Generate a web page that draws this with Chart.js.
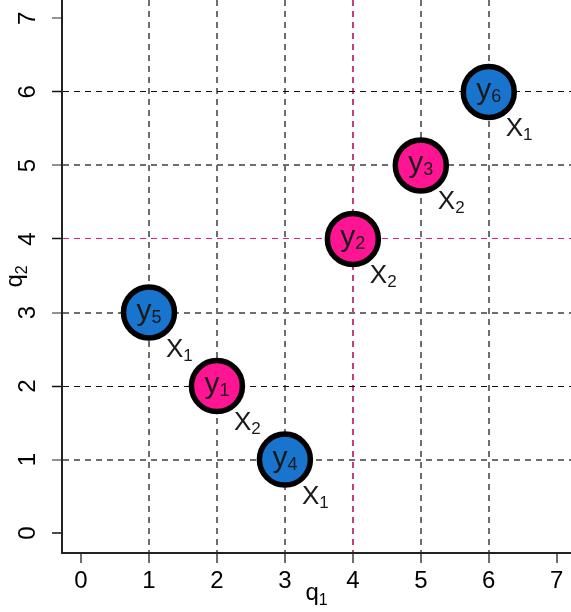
<!DOCTYPE html>
<html>
<head>
<meta charset="utf-8">
<script src="https://cdn.jsdelivr.net/npm/chart.js@4.4.1/dist/chart.umd.min.js"></script>
<style>
  html, body { margin: 0; padding: 0; background: #fff; }
  canvas { display: block; }
</style>
</head>
<body>
<canvas id="chart" width="571" height="612"></canvas>
<script>
// data
const q1Values = [2, 4, 5, 3, 1, 6];
const q2Values = [2, 4, 5, 1, 3, 6];
const pointIndex = ['1', '2', '3', '4', '5', '6'];   // y_i labels
const groupIndex = ['2', '2', '2', '1', '1', '1'];   // X_k labels
const xTickValues = [0, 1, 2, 3, 4, 5, 6, 7];
const yTickValues = [0, 1, 2, 3, 4, 5, 6, 7];
const xAxisTitle = ['q', '1'];
const yAxisTitle = ['q', '2'];

const FONT = '"Liberation Sans", Arial, Helvetica, sans-serif';
const groupColors = { '1': '#1874CD', '2': '#FF1493' };
const CLEAR = 'rgba(0,0,0,0)';
const GRAY = '#6e6e6e';

// grid look per tick
function xGridColor(v) {
    if (v === 0 || v === 7) return CLEAR;
    if (v === 4) return '#C2407F';
    return GRAY;
}
function yGridColor(v) {
    if (v === 0 || v === 7) return CLEAR;
    if (v === 4) return '#E0208A';
    if (v === 2 || v === 6) return '#111111';
    return GRAY;
}
function yGridWidth(v) {
    return (v === 2 || v === 4 || v === 6) ? 1 : 2;
}

// draw "main" with a lowered smaller "sub"
function drawSub(ctx, main, sub, x, baseline, size, subSize, align, drop) {
    ctx.font = size + 'px ' + FONT;
    const wm = ctx.measureText(main).width;
    ctx.font = subSize + 'px ' + FONT;
    const ws = ctx.measureText(sub).width;
    let start = x;
    if (align === 'center') start = x - (wm + ws) / 2;
    ctx.textAlign = 'left';
    ctx.textBaseline = 'alphabetic';
    ctx.font = size + 'px ' + FONT;
    ctx.fillText(main, start, baseline);
    ctx.font = subSize + 'px ' + FONT;
    ctx.fillText(sub, start + wm, baseline + drop);
}

const labelPlugin = {
    id: 'labelPlugin',
    afterDatasetsDraw(chart) {
        const ctx = chart.ctx;
        const meta = chart.getDatasetMeta(0);
        ctx.save();
        ctx.fillStyle = '#1a1a1a';
        meta.data.forEach((pt, i) => {
            const { x, y } = pt.getProps(['x', 'y'], true);
            drawSub(ctx, 'y', pointIndex[i], x, y + 7, 30, 18, 'center', 3);
            drawSub(ctx, 'X', groupIndex[i], x + 17, y + 44, 26, 17, 'left', 4);
        });
        ctx.restore();
    },
    afterDraw(chart) {
        const ctx = chart.ctx;
        const yScale = chart.scales.y;
        const area = chart.chartArea;
        ctx.save();
        ctx.fillStyle = '#000';
        // rotated y tick labels
        yTickValues.forEach(v => {
            const py = yScale.getPixelForValue(v);
            ctx.save();
            ctx.translate(28, py);
            ctx.rotate(-Math.PI / 2);
            ctx.font = '24px ' + FONT;
            ctx.textAlign = 'center';
            ctx.textBaseline = 'middle';
            ctx.fillText(String(v), 0, 0);
            ctx.restore();
        });
        // axis titles
        drawSub(ctx, xAxisTitle[0], xAxisTitle[1], (area.left + area.right) / 2, 600, 24, 16, 'center', 5);
        ctx.save();
        ctx.translate(22, (area.top + area.bottom) / 2);
        ctx.rotate(-Math.PI / 2);
        drawSub(ctx, yAxisTitle[0], yAxisTitle[1], 0, 0, 24, 16, 'center', 5);
        ctx.restore();
        ctx.restore();
    }
};

new Chart(document.getElementById('chart'), {
    type: 'scatter',
    data: {
        datasets: [{
            data: q1Values.map((v, i) => ({ x: v, y: q2Values[i] })),
            backgroundColor: groupIndex.map(g => groupColors[g]),
            borderColor: '#000000',
            borderWidth: 5.5,
            pointRadius: 25.5,
            pointHoverRadius: 25.5
        }]
    },
    options: {
        responsive: false,
        animation: false,
        layout: { padding: 0, autoPadding: false },
        plugins: { legend: { display: false }, tooltip: { enabled: false } },
        scales: {
            x: {
                type: 'linear',
                min: -0.28,
                max: 7.21,
                afterBuildTicks: scale => { scale.ticks = xTickValues.map(v => ({ value: v })); },
                afterFit: scale => { scale.height = 59; },
                ticks: {
                    color: '#000',
                    font: { family: FONT, size: 24 },
                    padding: 4,
                    maxRotation: 0,
                    callback: v => String(v)
                },
                grid: {
                    color: ctx => xGridColor(ctx.tick.value),
                    lineWidth: 2,
                    tickColor: GRAY,
                    tickWidth: 2,
                    tickLength: 10
                },
                border: { display: true, color: '#222', width: 2, dash: [6, 5] }
            },
            y: {
                type: 'linear',
                min: -0.27,
                max: 7.25,
                afterBuildTicks: scale => { scale.ticks = yTickValues.map(v => ({ value: v })); },
                afterFit: scale => { scale.width = 62; },
                ticks: { display: false },
                grid: {
                    color: ctx => yGridColor(ctx.tick.value),
                    lineWidth: ctx => yGridWidth(ctx.tick.value),
                    tickColor: ctx => (ctx.tick.value % 2 === 0 ? '#111' : GRAY),
                    tickWidth: 1.5,
                    tickLength: 10
                },
                border: { display: true, color: '#222', width: 2, dash: [6, 5] }
            }
        }
    },
    plugins: [labelPlugin]
});
</script>
</body>
</html>
